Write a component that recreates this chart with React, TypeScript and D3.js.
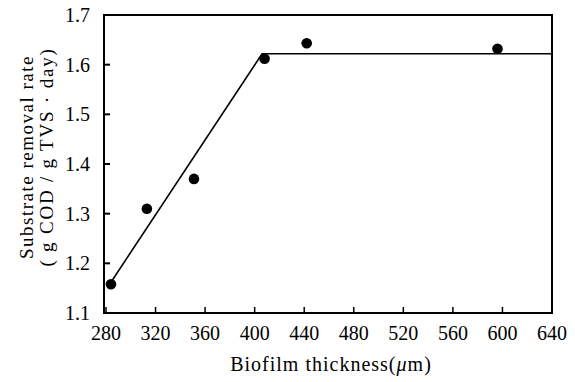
import React from 'react';
import * as d3 from 'd3';

const thickness = [284, 313, 351, 408, 442, 596];
const removalRate = [1.158, 1.31, 1.37, 1.612, 1.643, 1.632];
const fitX = [284, 406, 640];
const fitY = [1.162, 1.622, 1.622];
const xTicks = [280, 320, 360, 400, 440, 480, 520, 560, 600, 640];
const yTicks = [1.1, 1.2, 1.3, 1.4, 1.5, 1.6, 1.7];

const W = 575;
const H = 382;
const M = { left: 104, right: 23, top: 15, bottom: 69 };
const font = "'Liberation Serif', 'Times New Roman', Times, serif";

const App: React.FC = () => {
  const x = d3.scaleLinear().domain([280, 640]).range([M.left + 2, W - M.right]);
  const y = d3.scaleLinear().domain([1.1, 1.7]).range([H - M.bottom, M.top]);
  const line = d3.line<number>().x((d) => x(d)).y((_, i) => y(fitY[i]));

  return (
    <svg width={W} height={H} style={{ position: 'absolute', left: 0, top: 0, background: '#fff', fontFamily: font }}>
      <rect x={M.left} y={M.top} width={W - M.right - M.left} height={H - M.bottom - M.top} fill="none" stroke="#000" strokeWidth={2} />
      {yTicks.map((t) => (
        <g key={t}>
          <line x1={M.left} x2={M.left + 6} y1={y(t)} y2={y(t)} stroke="#000" strokeWidth={2} />
          <text x={M.left - 14} y={y(t)} dy="0.35em" textAnchor="end" fontSize={20} style={{ fontFamily: font }}>{t.toFixed(1)}</text>
        </g>
      ))}
      {xTicks.map((t) => (
        <g key={t}>
          <line x1={x(t)} x2={x(t)} y1={H - M.bottom} y2={H - M.bottom - 6} stroke="#000" strokeWidth={1.5} />
          <text x={x(t)} y={H - M.bottom + 27} textAnchor="middle" fontSize={20} style={{ fontFamily: font }}>{t}</text>
        </g>
      ))}
      <path d={line(fitX) || ''} fill="none" stroke="#000" strokeWidth={1.6} />
      {thickness.map((t, i) => (
        <circle key={t} cx={x(t)} cy={y(removalRate[i])} r={5.3} fill="#000" />
      ))}
      <text x={331} y={371} textAnchor="middle" fontSize={20} letterSpacing={1} style={{ fontFamily: font }}>
        Biofilm thickness(<tspan fontStyle="italic">μ</tspan>m)
      </text>
      <text transform="translate(33,157) rotate(-90)" textAnchor="middle" fontSize={19} letterSpacing={1.5} style={{ fontFamily: font }}>
        Substrate removal rate
      </text>
      <text transform="translate(53,157) rotate(-90)" textAnchor="middle" fontSize={19} letterSpacing={1.8} style={{ fontFamily: font }}>
        ( g COD / g TVS · day)
      </text>
    </svg>
  );
};

export default App;
